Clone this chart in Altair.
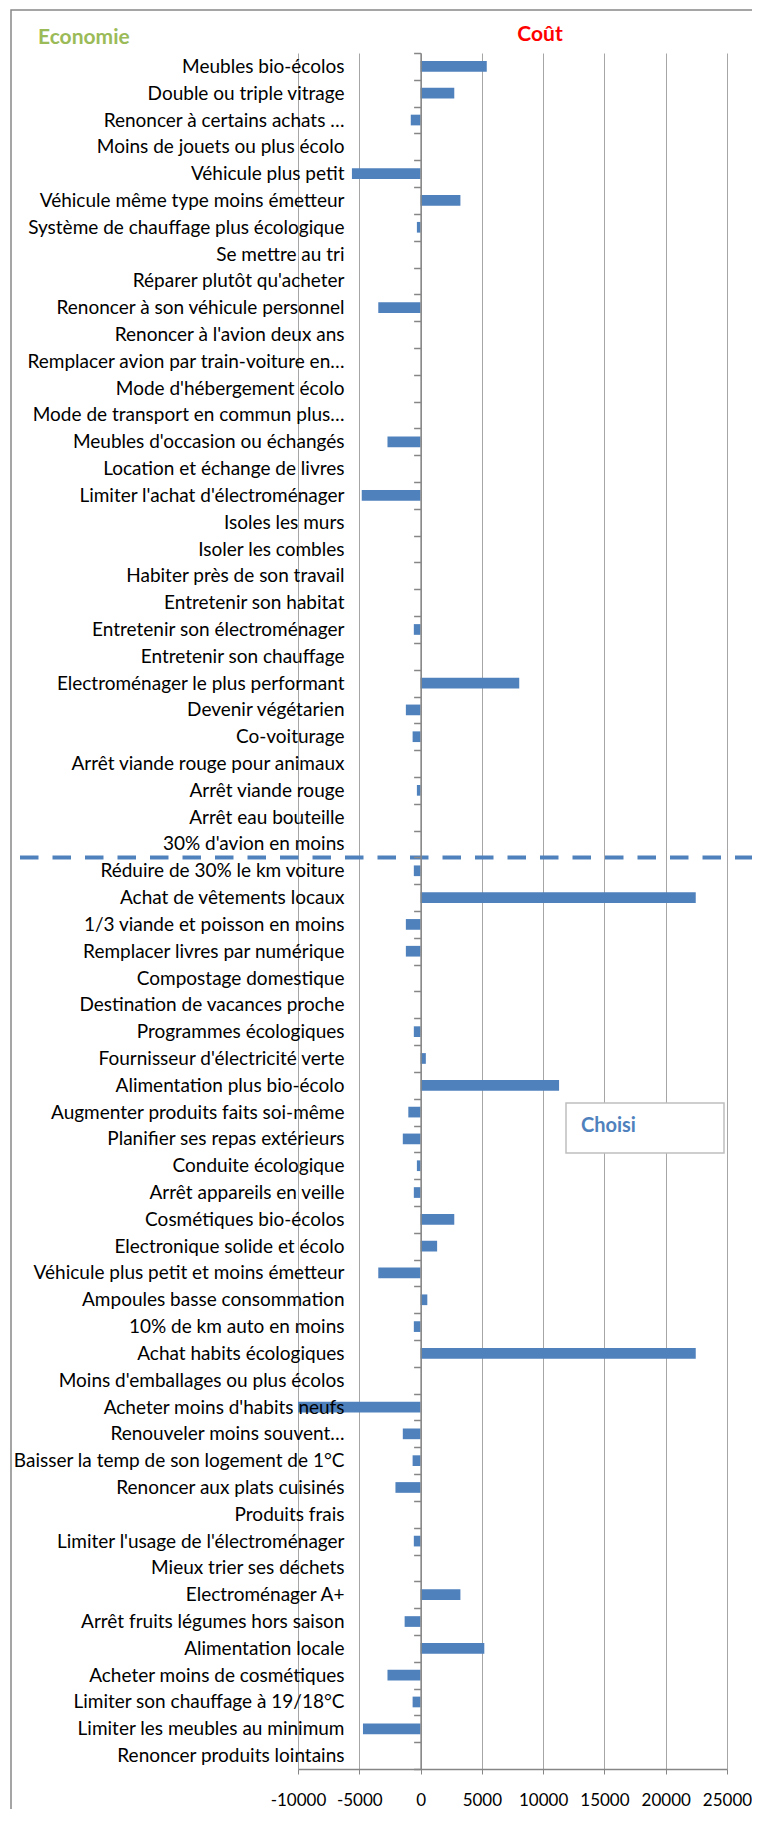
import altair as alt
import pandas as pd

categories = [
    "Meubles bio-écolos",
    "Double ou triple vitrage",
    "Renoncer à certains achats …",
    "Moins de jouets ou plus écolo",
    "Véhicule plus petit",
    "Véhicule même type moins émetteur",
    "Système de chauffage plus écologique",
    "Se mettre au tri",
    "Réparer plutôt qu'acheter",
    "Renoncer à son véhicule personnel",
    "Renoncer à l'avion deux ans",
    "Remplacer avion par train-voiture en…",
    "Mode d'hébergement écolo",
    "Mode de transport en commun plus…",
    "Meubles d'occasion ou échangés",
    "Location et échange de livres",
    "Limiter l'achat d'électroménager",
    "Isoles les murs",
    "Isoler les combles",
    "Habiter près de son travail",
    "Entretenir son habitat",
    "Entretenir son électroménager",
    "Entretenir son chauffage",
    "Electroménager le plus performant",
    "Devenir végétarien",
    "Co-voiturage",
    "Arrêt viande rouge pour animaux",
    "Arrêt viande rouge",
    "Arrêt eau bouteille",
    "30% d'avion en moins",
    "Réduire de 30% le km voiture",
    "Achat de vêtements locaux",
    "1/3 viande et poisson en moins",
    "Remplacer livres par numérique",
    "Compostage domestique",
    "Destination de vacances proche",
    "Programmes écologiques",
    "Fournisseur d'électricité verte",
    "Alimentation plus bio-écolo",
    "Augmenter produits faits soi-même",
    "Planifier ses repas extérieurs",
    "Conduite écologique",
    "Arrêt appareils en veille",
    "Cosmétiques bio-écolos",
    "Electronique solide et écolo",
    "Véhicule plus petit et moins émetteur",
    "Ampoules basse consommation",
    "10% de km auto en moins",
    "Achat habits écologiques",
    "Moins d'emballages ou plus écolos",
    "Acheter moins d'habits neufs",
    "Renouveler moins souvent…",
    "Baisser la temp de son logement de 1°C",
    "Renoncer aux plats cuisinés",
    "Produits frais",
    "Limiter l'usage de l'électroménager",
    "Mieux trier ses déchets",
    "Electroménager A+",
    "Arrêt fruits légumes hors saison",
    "Alimentation locale",
    "Acheter moins de cosmétiques",
    "Limiter son chauffage à 19/18°C",
    "Limiter les meubles au minimum",
    "Renoncer produits lointains",
]

values = [
    5400, 2750, -800, 0, -5600, 3250, -300, 0, 0, -3450,
    0, 0, 0, 0, -2700, 0, -4800, 0, 0, 0,
    0, -550, 0, 8050, -1200, -650, 0, -300, 0, 0,
    -550, 22450, -1200, -1200, 0, 0, -550, 430, 11300, -1000,
    -1450, -300, -550, 2750, 1350, -3450, 550, -550, 22450, 0,
    -10000, -1450, -650, -2050, 0, -550, 0, 3250, -1300, 5200,
    -2700, -650, -4700, 0,
]

x_ticks = [-10000, -5000, 0, 5000, 10000, 15000, 20000, 25000]
x_domain = [-10000, 25000]
split_category = ["Réduire de 30% le km voiture"]
left_title = ["Economie"]
right_title = ["Coût"]
legend_label = ["Choisi"]

df = pd.DataFrame({"action": categories, "valeur": values})

W, H = 429, 1716
FONT = "Lato"
BLUE = "#4F81BD"

yscale = alt.Scale(domain=categories, paddingInner=0, paddingOuter=0)
xscale = alt.Scale(domain=x_domain, nice=False, zero=False)

frame = alt.Chart(pd.DataFrame({"k": [0]})).mark_rect(
    fillOpacity=0, stroke="#888888", strokeWidth=1.5
).encode(
    x=alt.value(-287), x2=alt.value(480), y=alt.value(-43), y2=alt.value(1800)
)

bars = alt.Chart(df).mark_bar(color=BLUE, height=10.7).encode(
    x=alt.X(
        "valeur:Q",
        scale=xscale,
        title=None,
        axis=alt.Axis(
            values=x_ticks,
            grid=True,
            gridColor="#A6A6A6",
            gridWidth=1,
            domainColor="#868686",
            domainWidth=1.5,
            tickColor="#868686",
            tickSize=5,
            labelExpr="'' + datum.value",
            labelFont=FONT,
            labelFontSize=17,
            labelColor="#000000",
            labelPadding=18,
            labelFlush=False,
            zindex=0,
        ),
    ),
    x2=alt.datum(0),
    y=alt.Y(
        "action:N",
        sort=categories,
        scale=yscale,
        title=None,
        axis=alt.Axis(
            offset=-122.6,
            tickBand="extent",
            tickSize=7,
            tickColor="#868686",
            tickWidth=1.5,
            domainColor="#868686",
            domainWidth=1.5,
            grid=False,
            labelFont=FONT,
            labelFontSize=19,
            labelColor="#000000",
            labelPadding=69.6,
            labelLimit=400,
            labelOverlap=False,
            zindex=1,
        ),
    ),
)

split = alt.Chart(pd.DataFrame({"c": split_category})).mark_rule(
    color=BLUE, strokeWidth=4, strokeDash=[18.5, 14]
).encode(
    y=alt.Y(datum=split_category[0], type="nominal", bandPosition=0),
    x=alt.value(-278),
    x2=alt.value(480),
)

box = alt.Chart(pd.DataFrame({"k": [0]})).mark_rect(
    fill="white", stroke="#BFBFBF", strokeWidth=1.5
).encode(
    x=alt.value(268), x2=alt.value(426), y=alt.value(1050), y2=alt.value(1100)
)

box_text = alt.Chart(pd.DataFrame({"t": legend_label})).mark_text(
    font=FONT, fontSize=20, fontWeight="bold", color=BLUE, align="left", baseline="middle"
).encode(text="t:N", x=alt.value(283), y=alt.value(1073))

eco = alt.Chart(pd.DataFrame({"t": left_title})).mark_text(
    font=FONT, fontSize=21, fontWeight="bold", color="#9BBB59", align="left", baseline="middle"
).encode(text="t:N", x=alt.value(-260), y=alt.value(-15))

cout = alt.Chart(pd.DataFrame({"t": right_title})).mark_text(
    font=FONT, fontSize=21, fontWeight="bold", color="#FF0000", align="center", baseline="middle"
).encode(text="t:N", x=alt.value(242), y=alt.value(-18))

chart = alt.layer(frame, bars, split, box, box_text, eco, cout).properties(
    width=W,
    height=H,
    autosize=alt.AutoSizeParams(type="none"),
    padding={"left": 290, "top": 45, "right": 25, "bottom": 40},
    background="white",
).configure_view(stroke="transparent")

chart.save("out.html", embed_options={"renderer": "svg", "actions": False})
